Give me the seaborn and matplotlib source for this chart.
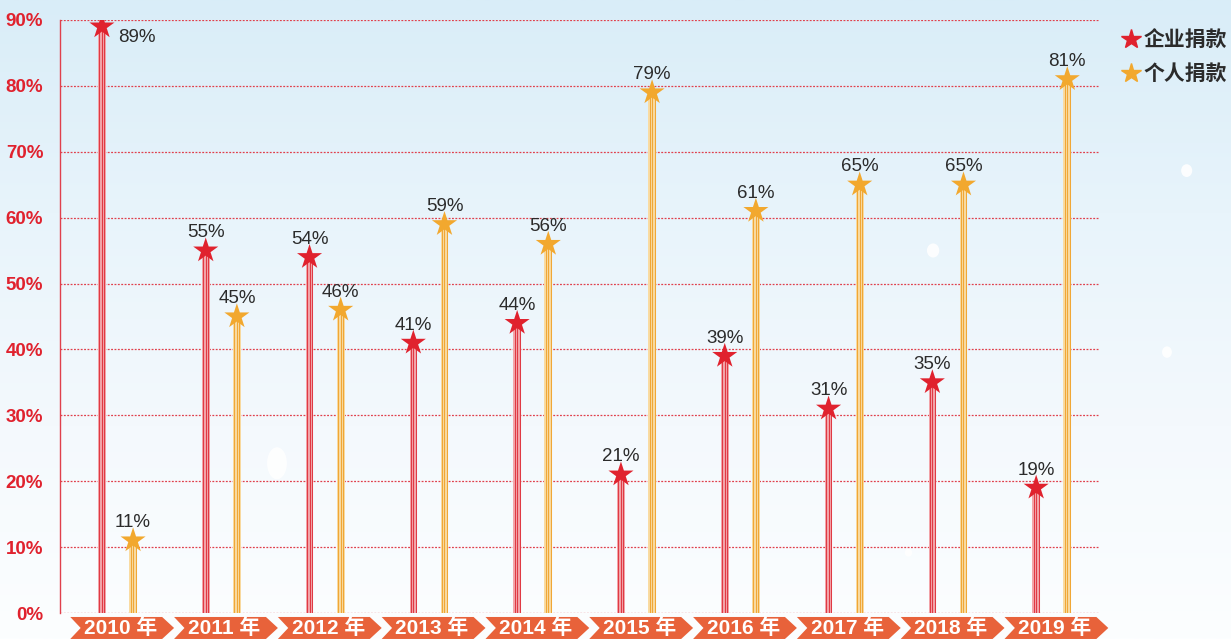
import numpy as np
import pandas as pd
import seaborn as sns
import matplotlib.pyplot as plt
from matplotlib.patches import Polygon, Ellipse
from matplotlib.lines import Line2D
from matplotlib.transforms import blended_transform_factory

years = ["2010", "2011", "2012", "2013", "2014", "2015", "2016", "2017", "2018", "2019"]
corporate = [89, 55, 54, 41, 44, 21, 39, 31, 35, 19]
individual = [11, 45, 46, 59, 56, 79, 61, 65, 65, 81]
series_names = ["企业捐款", "个人捐款"]

RED = "#e0222e"
GOLD = "#f2a82e"
RED_PALE = "#f3a6aa"
GOLD_PALE = "#f9dba2"
RED_STRIPE = "#e03a44"
GOLD_STRIPE = "#f0a736"
GRID = "#e0404c"
CHEVRON = "#e8623a"

sns.set_style("white")
plt.rcParams["font.family"] = ["Liberation Sans", "Noto Sans CJK SC", "DejaVu Sans"]

fig = plt.figure(figsize=(12.31, 6.39), dpi=100)

# background gradient + soft clouds
bg = fig.add_axes([0, 0, 1, 1], zorder=-10)
grad = np.linspace(0, 1, 256).reshape(-1, 1)
cmap = sns.blend_palette(["#d9edf8", "#e8f4fb", "#f4f9fd", "#fcfeff"], as_cmap=True)
bg.imshow(grad, aspect="auto", cmap=cmap, extent=[0, 1, 0, 1], origin="upper")
for cx, cy, w, h in [(0.225, 0.275, 0.016, 0.05), (0.758, 0.608, 0.01, 0.022),
                     (0.964, 0.733, 0.009, 0.02), (0.948, 0.449, 0.008, 0.018),
                     (0.738, 0.135, 0.006, 0.012)]:
    bg.add_patch(Ellipse((cx, cy), w, h, color="white", alpha=0.9, lw=0))
bg.set_xlim(0, 1)
bg.set_ylim(0, 1)
bg.axis("off")

ax = fig.add_axes([60 / 1231, 26 / 639, 1040 / 1231, 593 / 639])
ax.patch.set_alpha(0)

n = len(years)
idx = np.arange(n)
off = 0.15
df = pd.DataFrame({
    "x": np.concatenate([idx - off, idx + off]),
    "value": corporate + individual,
    "series": [series_names[0]] * n + [series_names[1]] * n,
})

# striped stems
stem_w = 0.074
for vals, xs, pale, dark in [(corporate, idx - off, RED_PALE, RED_STRIPE),
                             (individual, idx + off, GOLD_PALE, GOLD_STRIPE)]:
    ax.bar(xs, vals, width=stem_w, color=pale, zorder=2, linewidth=0)
    for d in (-0.024, 0.0, 0.024):
        ax.vlines(xs + d, 0, vals, color=dark, linewidth=0.75, zorder=3)

sns.scatterplot(data=df, x="x", y="value", hue="series",
                palette=[RED, GOLD], marker="*", s=360, linewidth=0,
                legend=False, zorder=5, ax=ax)

for i, row in df.iterrows():
    if i == 0:
        # first value label sits to the right of its star
        ax.text(row["x"] + 0.34, row["value"] - 1.7, f"{row['value']}%",
                ha="center", va="center", fontsize=13.5, color="#2b2b2b", zorder=6)
    else:
        ax.text(row["x"], row["value"] + 2.7, f"{row['value']}%",
                ha="center", va="center", fontsize=13.5, color="#2b2b2b", zorder=6)

ax.set_xlim(-0.554, 9.465)
ax.set_ylim(0, 90)
ax.set_yticks(range(0, 91, 10))
ax.set_yticklabels([f"{v}%" for v in range(0, 91, 10)], color=RED,
                   fontsize=13.5, fontweight="bold")
ax.set_xticks([])
ax.set_xlabel("")
ax.set_ylabel("")
ax.tick_params(axis="y", length=0, pad=12)
for y in range(0, 91, 10):
    ax.axhline(y, color=GRID, linewidth=0.9, linestyle=(0, (1.5, 1.2)), zorder=1)
for s in ["top", "right", "bottom"]:
    ax.spines[s].set_visible(False)
ax.spines["left"].set_color(GRID)
ax.spines["left"].set_linewidth(1.0)

# chevron year labels under the axis
trans = blended_transform_factory(ax.transData, ax.transAxes)
y0, y1 = -0.0438, -0.0067
ym = (y0 + y1) / 2
for i, yr in enumerate(years):
    c = i + 0.0
    left, right = c - 0.455, c + 0.43
    poly = Polygon([(left, y1), (right, y1), (right + 0.115, ym), (right, y0),
                    (left, y0), (left + 0.1, ym)], closed=True,
                   facecolor=CHEVRON, edgecolor="none", transform=trans,
                   clip_on=False, zorder=4)
    ax.add_patch(poly)
    ax.text(c + 0.03, ym, f"{yr} 年", transform=trans, ha="center", va="center",
            color="white", fontsize=15, fontweight="bold", zorder=5, clip_on=False)

handles = [Line2D([], [], marker="*", color=RED, linestyle="none", markersize=15),
           Line2D([], [], marker="*", color=GOLD, linestyle="none", markersize=15)]
fig.legend(handles, series_names, loc="upper left", bbox_to_anchor=(1104 / 1231, 1 - 11 / 639),
           frameon=False, handlelength=0.8, handletextpad=0.2, labelspacing=0.6,
           prop={"family": ["Noto Sans CJK SC"], "size": 15, "weight": "bold"},
           labelcolor="#2b2b2b")

fig.savefig("out.png", dpi=100)
